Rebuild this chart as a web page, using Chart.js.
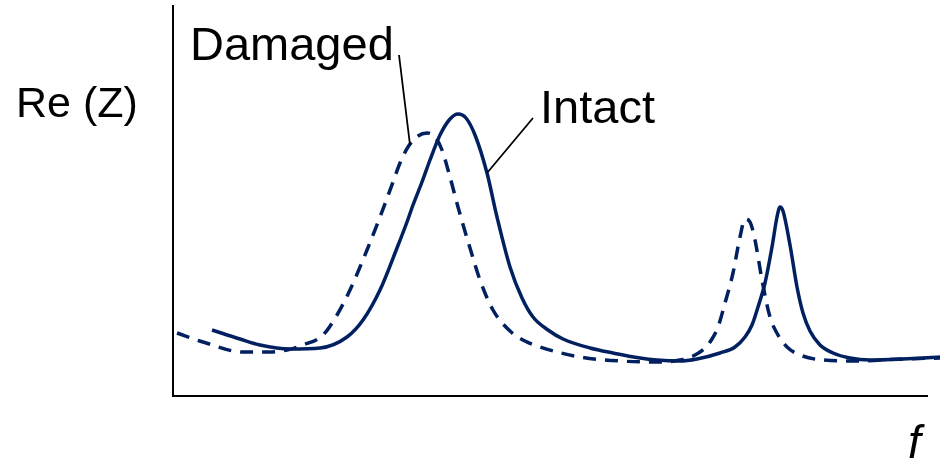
<!DOCTYPE html>
<html>
<head>
<meta charset="utf-8">
<script src="https://cdn.jsdelivr.net/npm/chart.js@4.4.1/dist/chart.umd.min.js"></script>
<style>
  body { margin: 0; background: #fff; }
  #wrap { width: 943px; height: 469px; position: relative; }
</style>
</head>
<body>
<div id="wrap"><canvas id="myChart"></canvas></div>
<script>
// data (frequency and Re(Z), arbitrary units)
const intactF = [212, 240, 260, 290, 320, 347, 363, 380, 397, 407, 413, 422, 430, 440, 450, 458, 466, 475, 487, 497, 510, 522, 533, 548, 563, 590, 613, 640, 657, 680, 697, 720, 735, 745, 752, 758, 765, 772, 777, 780, 783, 790, 797, 803, 810, 820, 833, 850, 870, 903, 940];
const intactRe = [65, 56, 50, 46, 47, 58, 75, 105, 147, 173, 190, 213, 235, 260, 276, 281, 277, 260, 222, 178, 128, 97, 78, 65, 56, 47, 42, 37, 35, 34, 36, 42, 48, 58, 70, 88, 112, 148, 178, 188, 184, 150, 108, 82, 64, 50, 42, 37, 35, 36, 38];

const damagedF = [177, 203, 243, 270, 287, 303, 323, 337, 350, 367, 380, 393, 400, 408, 418, 427, 435, 442, 450, 458, 470, 480, 493, 510, 525, 540, 580, 620, 660, 680, 695, 705, 712, 718, 725, 733, 740, 745, 750, 755, 762, 770, 778, 787, 800, 823, 860, 900, 940];
const damagedRe = [62, 53, 43, 43, 45, 50, 60, 80, 105, 145, 178, 213, 232, 248, 259, 262, 258, 245, 218, 188, 147, 115, 85, 64, 54, 48, 38, 34, 33, 35, 40, 47, 56, 68, 92, 122, 158, 176, 173, 155, 115, 78, 60, 48, 40, 35, 34, 36, 37];

const xAxisEnd = 928;
const lineColor = '#002060';

function pts(xs, ys) {
  return xs.map((x, i) => ({ x: x, y: ys[i] }));
}

// axes lines + labels + leader lines
const decor = {
  id: 'decor',
  afterDraw(chart) {
    const c = chart.ctx;
    const xs = chart.scales.x;
    const ys = chart.scales.y;
    const area = chart.chartArea;
    c.save();
    c.strokeStyle = '#000';
    c.lineWidth = 2;
    c.beginPath();
    c.moveTo(area.left, area.top);
    c.lineTo(area.left, area.bottom + 1);
    c.lineTo(xs.getPixelForValue(xAxisEnd), area.bottom + 1);
    c.stroke();

    // leader lines
    c.lineWidth = 1.8;
    c.beginPath();
    c.moveTo(399, 55);
    c.lineTo(xs.getPixelForValue(410), ys.getPixelForValue(250));
    c.moveTo(533, 118);
    c.lineTo(xs.getPixelForValue(487), ys.getPixelForValue(222));
    c.stroke();

    c.fillStyle = '#000';
    c.textBaseline = 'alphabetic';
    c.font = '43px "Liberation Sans", Arial, sans-serif';
    c.fillText('Re (Z)', 16, 117);
    c.font = '47px "Liberation Sans", Arial, sans-serif';
    c.fillText('Damaged', 190, 60);
    c.fillText('Intact', 540, 123);
    c.font = 'italic 46px "Liberation Sans", Arial, sans-serif';
    c.fillText('f', 908, 458);
    c.restore();
  }
};

const ctx = document.getElementById('myChart').getContext('2d');
const myChart = new Chart(ctx, {
  type: 'scatter',
  data: {
    datasets: [
      {
        label: 'Damaged',
        data: pts(damagedF, damagedRe),
        showLine: true,
        borderColor: lineColor,
        borderWidth: 3.5,
        borderDash: [13, 9],
        pointRadius: 0,
        cubicInterpolationMode: 'monotone'
      },
      {
        label: 'Intact',
        data: pts(intactF, intactRe),
        showLine: true,
        borderColor: lineColor,
        borderWidth: 3.5,
        pointRadius: 0,
        cubicInterpolationMode: 'monotone'
      }
    ]
  },
  options: {
    responsive: true,
    maintainAspectRatio: false,
    animation: false,
    layout: { padding: { left: 173, top: 5, right: 3, bottom: 74 } },
    scales: {
      x: { type: 'linear', min: 173, max: 940, display: false },
      y: { min: 0, max: 390, display: false }
    },
    plugins: {
      legend: { display: false },
      tooltip: { enabled: false }
    }
  },
  plugins: [decor]
});
</script>
</body>
</html>
